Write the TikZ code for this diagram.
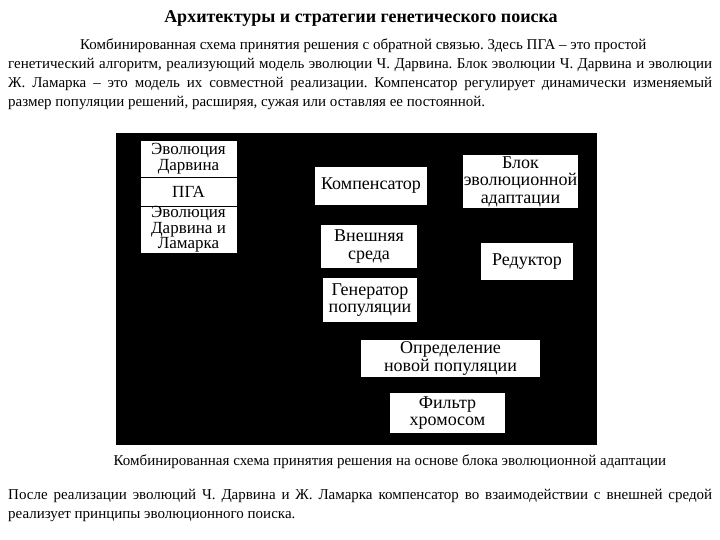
\documentclass[tikz,border=0pt]{standalone}
\usepackage{fontspec}
\setmainfont{Liberation Serif}
\frenchspacing

\tikzset{
  panel/.style={fill=black, inner sep=0pt},
  blk/.style={fill=white, inner sep=0pt, align=center,
    font=\fontsize{18}{17.5}\selectfont},
  cell/.style={blk, draw=black, line width=0.8pt,
    font=\fontsize{17}{15.5}\selectfont},
  txt/.style={anchor=base west, inner sep=0pt, font=\fontsize{15}{18}\selectfont},
}

\begin{document}
\begin{tikzpicture}[x=1pt, y=-1pt]
  \useasboundingbox (0,0) rectangle (720,540);

  % Text above
  \node[anchor=base, inner sep=0pt, font=\bfseries\fontsize{18}{20}\selectfont] (title) at (361,23)
    {Архитектуры и стратегии генетического поиска};
  \node[txt] (p1) at (80,50) {Комбинированная схема принятия решения с обратной связью. Здесь ПГА – это простой};
  \node[txt] (p2) at (8,69) {\makebox[704pt][s]{генетический алгоритм, реализующий модель эволюции Ч. Дарвина. Блок эволюции Ч. Дарвина и эволюции}};
  \node[txt] (p3) at (8,88) {\makebox[704pt][s]{Ж. Ламарка – это модель их совместной реализации. Компенсатор регулирует динамически изменяемый}};
  \node[txt] (p4) at (8,107) {размер популяции решений, расширяя, сужая или оставляя ее постоянной.};

  % Scheme
  \node[panel, minimum width=481pt, minimum height=312pt] (panel) at (356.5,289) {};

  \node[cell, minimum width=97pt, minimum height=37pt] (darwin) at (188.5,158.5) {Эволюция\\Дарвина};
  \node[cell, minimum width=97pt, minimum height=29pt] (pga) at (188.5,191.5) {ПГА};
  \node[cell, minimum width=97pt, minimum height=47pt] (lamarck) at (188.5,229.5) {Эволюция\\Дарвина и\\Ламарка};

  \node[blk, minimum width=112pt, minimum height=38pt] (komp) at (371,186) {Компенсатор};
  \node[blk, minimum width=115pt, minimum height=53pt] (adapt) at (520.5,181.5) {Блок\\эволюционной\\адаптации};
  \node[blk, minimum width=96pt, minimum height=43pt] (env) at (369,246.5) {Внешняя\\среда};
  \node[blk, minimum width=92pt, minimum height=37pt] (red) at (527,261.5) {Редуктор};
  \node[blk, minimum width=94pt, minimum height=44pt] (gen) at (370,300) {Генератор\\популяции};
  \node[blk, minimum width=179pt, minimum height=37pt] (newpop) at (450.5,358.5) {Определение\\новой популяции};
  \node[blk, minimum width=115pt, minimum height=40pt] (filt) at (447.5,413) {Фильтр\\хромосом};

  % Text below
  \node[anchor=base, inner sep=0pt, font=\fontsize{15}{18}\selectfont] (caption) at (390,465)
    {Комбинированная схема принятия решения на основе блока эволюционной адаптации};
  \node[txt] (q1) at (8,499) {\makebox[704pt][s]{После реализации эволюций Ч. Дарвина и Ж. Ламарка компенсатор во взаимодействии с внешней средой}};
  \node[txt] (q2) at (8,518) {реализует принципы эволюционного поиска.};
\end{tikzpicture}
\end{document}
